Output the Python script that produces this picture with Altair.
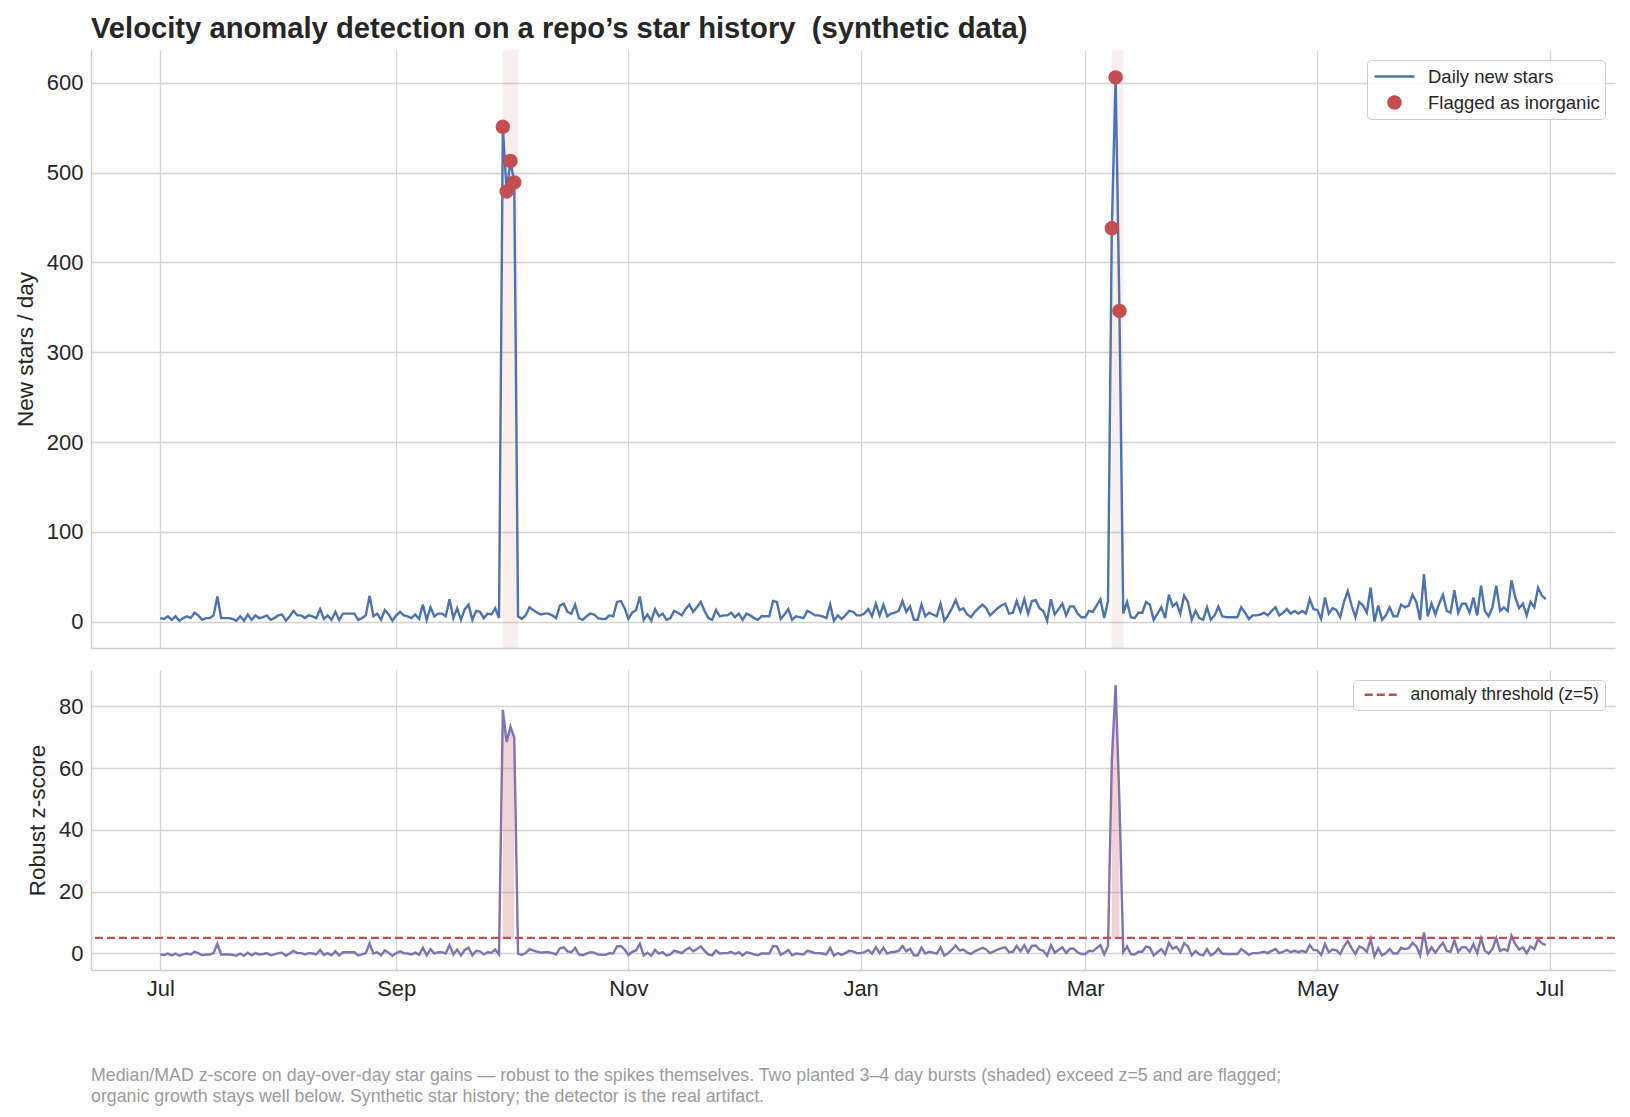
import altair as alt
import pandas as pd

# ---- daily new stars, one list per month (2024-07-01 .. 2025-06-30) ----
stars_jul = [4, 3, 6, 2, 6, 1, 4, 6, 4, 10, 7, 2, 4, 4, 7, 28, 4, 4, 4, 3, 1, 6, 1, 8, 2, 7, 4, 5, 7, 2, 4]
stars_aug = [7, 8, 1, 6, 12, 7, 7, 4, 7, 6, 4, 14, 3, 7, 2, 11, 2, 9, 9, 9, 9, 2, 4, 7, 29, 6, 9, 2, 13, 8, 1]
stars_sep = [7, 11, 7, 6, 4, 8, 3, 19, 2, 16, 6, 9, 9, 6, 25, 4, 15, 2, 14, 19, 2, 12, 11, 4, 9, 8, 15, 4, 551, 479]
stars_oct = [513, 489, 6, 3, 7, 16, 13, 10, 8, 9, 9, 7, 4, 18, 20, 11, 9, 19, 4, 2, 6, 9, 8, 4, 3, 3, 7, 6, 22, 23, 15]
stars_nov = [3, 10, 13, 28, 2, 8, 1, 14, 6, 9, 2, 4, 12, 10, 7, 14, 19, 11, 16, 22, 12, 4, 2, 13, 6, 7, 7, 10, 5, 9]
stars_dec = [2, 9, 7, 4, 2, 6, 6, 6, 23, 22, 3, 8, 14, 2, 6, 5, 4, 12, 10, 7, 7, 6, 4, 19, 1, 7, 3, 7, 12, 11, 7]
stars_jan = [7, 9, 14, 6, 20, 7, 19, 6, 9, 10, 12, 23, 11, 17, 2, 2, 19, 6, 10, 8, 6, 20, 1, 7, 15, 24, 13, 15, 8, 5, 11]
stars_feb = [15, 19, 15, 7, 11, 15, 18, 20, 9, 10, 23, 11, 25, 9, 23, 24, 15, 12, 1, 25, 8, 14, 20, 7, 17, 17, 9, 5]
stars_mar = [5, 12, 11, 18, 25, 4, 23, 438, 606, 346, 9, 22, 5, 4, 10, 10, 22, 19, 2, 9, 16, 4, 30, 17, 21, 9, 29, 22, 2, 12, 4]
stars_apr = [2, 16, 2, 7, 17, 6, 5, 5, 5, 5, 16, 10, 3, 7, 7, 8, 10, 7, 12, 16, 7, 10, 14, 9, 12, 9, 12, 9, 25, 14]
stars_may = [13, 3, 27, 9, 15, 13, 5, 22, 34, 18, 5, 22, 18, 10, 38, 0, 18, 2, 7, 16, 6, 6, 19, 16, 18, 30, 22, 2, 53, 6, 20]
stars_jun = [8, 20, 30, 12, 10, 35, 10, 20, 20, 10, 27, 7, 40, 12, 6, 16, 40, 12, 16, 12, 46, 27, 15, 20, 7, 22, 16, 38, 29, 25]

# ---- robust (median/MAD) z-score of each day ----
z_jul = [-0.36, -0.51, -0.07, -0.65, -0.07, -0.80, -0.36, -0.07, -0.36, 0.51, 0.07, -0.65, -0.36, -0.36, 0.07, 3.12,
         -0.36, -0.36, -0.36, -0.51, -0.80, -0.07, -0.80, 0.22, -0.65, 0.07, -0.36, -0.22, 0.07, -0.65, -0.36]
z_aug = [0.07, 0.22, -0.80, -0.07, 0.80, 0.07, 0.07, -0.36, 0.07, -0.07, -0.36, 1.09, -0.51, 0.07, -0.65, 0.65,
         -0.65, 0.36, 0.36, 0.36, 0.36, -0.65, -0.36, 0.07, 3.26, -0.07, 0.36, -0.65, 0.94, 0.22, -0.80]
z_sep = [0.07, 0.65, 0.07, -0.07, -0.36, 0.22, -0.51, 1.81, -0.65, 1.38, -0.07, 0.36, 0.36, -0.07, 2.68,
         -0.36, 1.23, -0.65, 1.09, 1.81, -0.65, 0.80, 0.65, -0.36, 0.36, 0.22, 1.23, -0.36, 78.91, 68.48]
z_oct = [73.41, 69.93, -0.07, -0.51, 0.07, 1.38, 0.94, 0.51, 0.22, 0.36, 0.36, 0.07, -0.36, 1.67, 1.96, 0.65,
         0.36, 1.81, -0.36, -0.65, -0.07, 0.36, 0.22, -0.36, -0.51, -0.51, 0.07, -0.07, 2.25, 2.39, 1.23]
z_nov = [-0.51, 0.51, 0.94, 3.12, -0.65, 0.22, -0.80, 1.09, -0.07, 0.36, -0.65, -0.36, 0.80, 0.51, 0.07,
         1.09, 1.81, 0.65, 1.38, 2.25, 0.80, -0.36, -0.65, 0.94, -0.07, 0.07, 0.07, 0.51, -0.22, 0.36]
z_dec = [-0.65, 0.36, 0.07, -0.36, -0.65, -0.07, -0.07, -0.07, 2.39, 2.25, -0.51, 0.22, 1.09, -0.65, -0.07, -0.22,
         -0.36, 0.80, 0.51, 0.07, 0.07, -0.07, -0.36, 1.81, -0.80, 0.07, -0.51, 0.07, 0.80, 0.65, 0.07]
z_jan = [0.07, 0.36, 1.09, -0.07, 1.96, 0.07, 1.81, -0.07, 0.36, 0.51, 0.80, 2.39, 0.65, 1.52, -0.65, -0.65,
         1.81, -0.07, 0.51, 0.22, -0.07, 1.96, -0.80, 0.07, 1.23, 2.54, 0.94, 1.23, 0.22, -0.22, 0.65]
z_feb = [1.23, 1.81, 1.23, 0.07, 0.65, 1.23, 1.67, 1.96, 0.36, 0.51, 2.39, 0.65, 2.68, 0.36, 2.39, 2.54,
         1.23, 0.80, -0.80, 2.68, 0.22, 1.09, 1.96, 0.07, 1.52, 1.52, 0.36, -0.22]
z_mar = [-0.22, 0.80, 0.65, 1.67, 2.68, -0.36, 2.39, 62.54, 86.88, 49.20, 0.36, 2.25, -0.22, -0.36, 0.51, 0.51,
         2.25, 1.81, -0.65, 0.36, 1.38, -0.36, 3.41, 1.52, 2.10, 0.36, 3.26, 2.25, -0.65, 0.80, -0.36]
z_apr = [-0.65, 1.38, -0.65, 0.07, 1.52, -0.07, -0.22, -0.22, -0.22, -0.22, 1.38, 0.51, -0.51, 0.07, 0.07,
         0.22, 0.51, 0.07, 0.80, 1.38, 0.07, 0.51, 1.09, 0.36, 0.80, 0.36, 0.80, 0.36, 2.68, 1.09]
z_may = [0.94, -0.51, 2.97, 0.36, 1.23, 0.94, -0.22, 2.25, 3.99, 1.67, -0.22, 2.25, 1.67, 0.51, 4.57, -0.94,
         1.67, -0.65, 0.07, 1.38, -0.07, -0.07, 1.81, 1.38, 1.67, 3.41, 2.25, -0.65, 6.74, -0.07, 1.96]
z_jun = [0.22, 1.96, 3.41, 0.80, 0.51, 4.13, 0.51, 1.96, 1.96, 0.51, 2.97, 0.07, 4.86, 0.80, -0.07,
         1.38, 4.86, 0.80, 1.38, 0.80, 5.72, 2.97, 1.23, 1.96, 0.07, 2.25, 1.38, 4.57, 3.26, 2.68]

FIRST_DAY = "2024-07-01"
STAR_MONTHS = [stars_jul, stars_aug, stars_sep, stars_oct, stars_nov, stars_dec,
               stars_jan, stars_feb, stars_mar, stars_apr, stars_may, stars_jun]
Z_MONTHS = [z_jul, z_aug, z_sep, z_oct, z_nov, z_dec, z_jan, z_feb, z_mar, z_apr, z_may, z_jun]

# planted bursts (shaded spans) and the days the detector flags
BURST_START = ["2024-09-29", "2025-03-08"]
BURST_END = ["2024-10-03", "2025-03-11"]
FLAGGED_DAYS = ["2024-09-29", "2024-09-30", "2024-10-01", "2024-10-02",
                "2025-03-08", "2025-03-09", "2025-03-10"]
FLAGGED_BURST = [1, 1, 1, 1, 2, 2, 2]
THRESHOLD = 5

STAR_TICKS = [0, 100, 200, 300, 400, 500, 600]
Z_TICKS = [0, 20, 40, 60, 80]
MONTH_TICKS = [(2024, 7), (2024, 9), (2024, 11), (2025, 1), (2025, 3), (2025, 5), (2025, 7)]

TITLE = "Velocity anomaly detection on a repo\u2019s star history \u00a0(synthetic data)"
FOOTER = [
    "Median/MAD z-score on day-over-day star gains \u2014 robust to the spikes themselves. "
    "Two planted 3\u20134 day bursts (shaded) exceed z=5 and are flagged;",
    "organic growth stays well below. Synthetic star history; the detector is the real artifact.",
]

SERIES = ["Daily new stars", "Flagged as inorganic"]
THRESHOLD_LABEL = "anomaly threshold (z=5)"

BLUE, RED, PURPLE, INK = "#4C72B0", "#C44E52", "#8172B3", "#262626"
FONT = "Liberation Sans"

# ---- tables ----
stars = sum(STAR_MONTHS, [])
zscore = sum(Z_MONTHS, [])
assert len(stars) == len(zscore) == 365
for s_m, z_m in zip(STAR_MONTHS, Z_MONTHS):
    assert len(s_m) == len(z_m)

dates = pd.date_range(FIRST_DAY, periods=len(stars), freq="D").strftime("%Y-%m-%d")
daily = pd.DataFrame({"date": dates, "stars": stars, "z": zscore})

flagged = daily[daily["date"].isin(FLAGGED_DAYS)].copy().reset_index(drop=True)
flagged["series"] = SERIES[1]
flagged["burst"] = FLAGGED_BURST
flagged["thr"] = THRESHOLD

spans = pd.DataFrame({"start": BURST_START, "end": BURST_END})
threshold = pd.DataFrame({"label": [THRESHOLD_LABEL], "z": [THRESHOLD]})

# ---- shared time axis ----
x_scale = alt.Scale(
    type="utc",
    domain=[alt.DateTime(year=2024, month=6, date=12, hours=19, minutes=12, utc=True),
            alt.DateTime(year=2025, month=7, date=18, hours=4, minutes=48, utc=True)],
)
month_values = [alt.DateTime(year=y, month=m, date=1, utc=True) for y, m in MONTH_TICKS]
x_top_axis = alt.Axis(values=month_values, labels=False, ticks=False, title=None)
x_bottom_axis = alt.Axis(values=month_values, title=None, labelExpr="utcFormat(datum.value, '%b')")

W = 1524
LINE_W = 2.4

# ---- top panel: daily stars ----
star_y = alt.Y("stars:Q", scale=alt.Scale(domain=[-29.3, 636.5], nice=False, zero=False),
               axis=alt.Axis(values=STAR_TICKS, title="New stars / day"))

span_layer = alt.Chart(spans).mark_rect(
    color=RED, opacity=0.09, stroke=RED, strokeOpacity=0.12, strokeWidth=1
).encode(x=alt.X("start:T", scale=x_scale, axis=x_top_axis), x2="end:T")

star_line = alt.Chart(daily).mark_line(color=BLUE, strokeWidth=LINE_W).encode(
    x=alt.X("date:T", scale=x_scale, axis=x_top_axis), y=star_y
)

# symbol shapes (unit = half of sqrt(size)): a long stroke for the line series, a dot for flags
SYMBOL_SIZE = 400
LINE_SYMBOL = "M-2,0L2,0"
DOT = "M-0.6,0A0.6,0.6,0,1,0,0.6,0A0.6,0.6,0,1,0,-0.6,0Z"
top_legend = alt.Legend(
    title=None, orient="top-right", offset=10, padding=5, rowPadding=5,
    labelFontSize=18.5, labelColor=INK, labelFont=FONT, labelLimit=400,
    symbolSize=SYMBOL_SIZE, symbolStrokeWidth=2.5, symbolOffset=11, labelOffset=22,
    fillColor="rgba(255,255,255,0.8)", strokeColor="#cccccc", cornerRadius=4,
)
flag_points = alt.Chart(flagged).mark_point(
    filled=False, fill=RED, opacity=1, size=SYMBOL_SIZE, strokeWidth=2.5
).encode(
    x=alt.X("date:T", scale=x_scale, axis=x_top_axis),
    y=star_y,
    color=alt.Color("series:N", scale=alt.Scale(domain=SERIES, range=[BLUE, RED]), legend=top_legend),
    shape=alt.Shape("series:N", scale=alt.Scale(domain=SERIES, range=[LINE_SYMBOL, DOT]),
                    legend=top_legend),
)

top = alt.layer(span_layer, star_line, flag_points).properties(
    width=W, height=598,
    title=alt.TitleParams(TITLE, anchor="start", frame="group", fontSize=29.2, fontWeight="bold",
                          color=INK, font=FONT, offset=5),
)

# ---- bottom panel: robust z-score ----
z_y = alt.Y("z:Q", scale=alt.Scale(domain=[-5.4, 91.8], nice=False, zero=False),
            axis=alt.Axis(values=Z_TICKS, title="Robust z-score"))
x_bottom = alt.X("date:T", scale=x_scale, axis=x_bottom_axis)

z_fill = alt.Chart(flagged).mark_area(color=RED, opacity=0.25).encode(
    x=x_bottom, y=z_y, y2="thr:Q", detail="burst:N"
)
z_line = alt.Chart(daily).mark_line(color=PURPLE, strokeWidth=LINE_W).encode(x=x_bottom, y=z_y)
z_rule = alt.Chart(threshold).mark_rule(strokeDash=[8, 4], strokeWidth=2.3).encode(
    y="z:Q",
    color=alt.Color("label:N", scale=alt.Scale(domain=[THRESHOLD_LABEL], range=[RED]),
                    legend=alt.Legend(
                        title=None, orient="top-right", offset=10, padding=6,
                        labelFontSize=17.5, labelColor=INK, labelFont=FONT,
                        labelLimit=400, symbolType="M-3.6,0L3.6,0", symbolSize=100,
                        symbolOffset=15, labelOffset=19,
                        symbolStrokeWidth=2.5, symbolDash=[8, 4],
                        fillColor="rgba(255,255,255,0.8)", strokeColor="#cccccc", cornerRadius=4,
                    )),
)

bottom = alt.layer(z_fill, z_line, z_rule).properties(
    width=W, height=300,
    title=alt.TitleParams(FOOTER, orient="bottom", anchor="start", frame="group", fontSize=17.8,
                          fontWeight="normal", color="#9a9a9a", font=FONT, offset=68,
                          lineHeight=20.5),
)

chart = (
    alt.vconcat(top, bottom, spacing=21)
    .resolve_scale(color="independent", shape="independent")
    .resolve_legend(color="independent", shape="independent")
    .properties(padding={"left": 14, "top": 15, "right": 12, "bottom": 10})
    .configure(font=FONT)
    .configure_view(stroke=None)
    .configure_axis(
        grid=True, gridColor="#d3d3d3", gridWidth=1.3,
        domain=True, domainColor="#cccccc", domainWidth=1.5,
        ticks=False, labelPadding=8, titlePadding=9,
        labelFontSize=22, labelColor=INK, labelFont=FONT,
        titleFontSize=22.5, titleColor=INK, titleFont=FONT, titleFontWeight="normal",
    )
)

chart.save("out.html", embed_options={"renderer": "svg", "actions": False})
